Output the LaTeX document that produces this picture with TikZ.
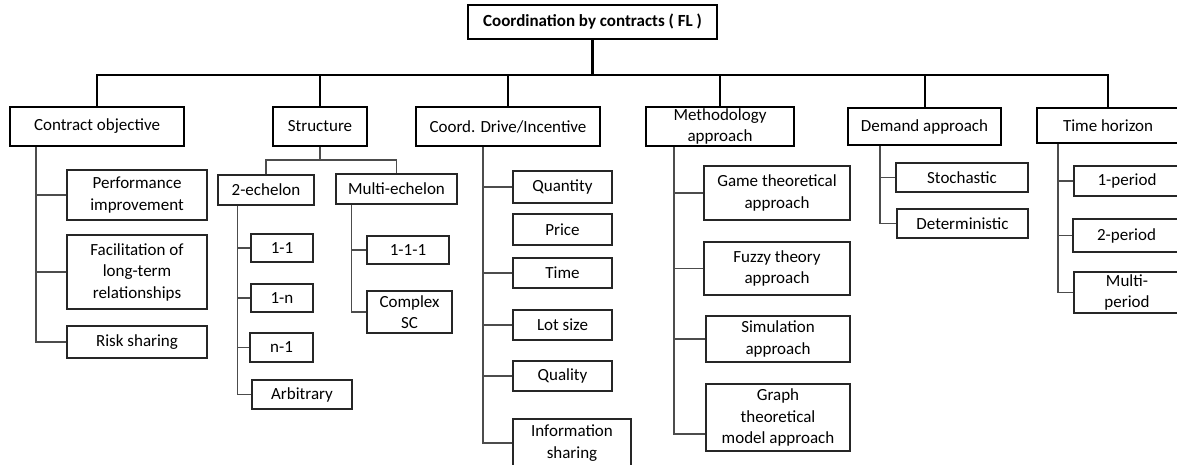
\documentclass[tikz,border=0pt]{standalone}
\usepackage{fontspec}
\setmainfont{Carlito}
\newcommand\dfont{\fontsize{17}{21.5}\selectfont}
\begin{document}
\begin{tikzpicture}[x=1pt,y=-1pt,
  sz/.style 2 args={minimum width=#1pt,minimum height=#2pt},
  l0/.style={draw, line width=2.2pt, inner sep=0pt, align=center, font=\dfont\bfseries},
  l1/.style={draw, line width=2pt, inner sep=0pt, align=center, font=\dfont},
  l2/.style={draw=black!85, line width=1.3pt, inner sep=0pt, align=center, font=\dfont},
  busline/.style={line width=2.6pt},
  dropline/.style={line width=2pt},
  br/.style={line width=1.6pt, draw=black!70}]
\useasboundingbox (0,0) rectangle (1177,465);
\clip (0,0) rectangle (1177,465);

% root and level 1
\node[l0, sz={249}{34}] (root) at (592.5,22) {Coordination by contracts ( FL )};
\node[l1, sz={174}{39}] (co) at (97,126.5) {Contract objective};
\node[l1, sz={94}{39}]  (st) at (320,126.5) {Structure};
\node[l1, sz={184}{39}] (cd) at (508,126.5) {Coord. Drive/Incentive};
\node[l1, sz={148}{39}] (me) at (720,126.5) {Methodology\\approach};
\node[l1, sz={153}{37}] (de) at (924.5,126.5) {Demand approach};
\node[l1, sz={142}{35}] (th) at (1108,125.5) {Time horizon};

\coordinate (bus) at (592.5,75);
\draw[busline] (co.north) |- (bus) -| (th.north);
\draw[busline] (root.south) -- (bus);
\foreach \n in {st,cd,me,de} \draw[dropline] (\n.north) -- (\n.north |- bus);

% contract objective
\node[l2, sz={140}{50}] (perf) at (137,195) {Performance\\improvement};
\node[l2, sz={140}{74}] (fac)  at (137,272) {Facilitation of\\long-term\\relationships};
\node[l2, sz={140}{32}] (risk) at (137,342) {Risk sharing};
\coordinate (cot) at ([xshift=27pt]co.south west);
\draw[br] (cot) |- (risk.west);
\foreach \n in {perf,fac} \draw[br] (\n.west) -- (\n.west -| cot);

% structure
\node[l2, sz={96}{30}]  (e2) at (266,190) {2-echelon};
\node[l2, sz={121}{30}] (em) at (396.5,189) {Multi-echelon};
\coordinate (sj) at (320,160);
\draw[br] (st.south) -- (sj);
\draw[br] (e2.north) |- (sj) -| (em.north);

\node[l2, sz={62}{28}]  (e11) at (282,248) {1-1};
\node[l2, sz={62}{28}]  (e1n) at (282,298) {1-n};
\node[l2, sz={63}{29}]  (en1) at (281.5,347.5) {n-1};
\node[l2, sz={100}{29}] (arb) at (302,394.5) {Arbitrary};
\coordinate (e2t) at ([xshift=20pt]e2.south west);
\draw[br] (e2t) |- (arb.west);
\foreach \n in {e11,e1n,en1} \draw[br] (\n.west) -- (\n.west -| e2t);

\node[l2, sz={82}{28}] (m111) at (408,250) {1-1-1};
\node[l2, sz={85}{42}] (csc)  at (409.5,312) {Complex\\SC};
\coordinate (emt) at ([xshift=16pt]em.south west);
\draw[br] (emt) |- (csc.west);
\draw[br] (m111.west) -- (m111.west -| emt);

% coord drive
\node[l2, sz={99}{32}]  (qty)   at (562.5,187) {Quantity};
\node[l2, sz={99}{31}]  (price) at (562.5,229.5) {Price};
\node[l2, sz={99}{30}]  (time)  at (562.5,273) {Time};
\node[l2, sz={99}{30}]  (lot)   at (562.5,325) {Lot size};
\node[l2, sz={99}{30}]  (qual)  at (562.5,376) {Quality};
\node[l2, sz={118}{48}] (info)  at (572,443) {Information\\sharing};
\coordinate (cdt) at ([xshift=68pt]cd.south west);
\draw[br] (cdt) |- (info.west);
\foreach \n in {qty,time,lot,qual} \draw[br] (\n.west) -- (\n.west -| cdt);

% methodology
\node[l2, sz={146}{54}] (game)  at (777,193) {Game theoretical\\approach};
\node[l2, sz={146}{53}] (fuzzy) at (777,268.5) {Fuzzy theory\\approach};
\node[l2, sz={144}{46}] (sim)   at (778,339) {Simulation\\approach};
\node[l2, sz={144}{67}] (graph) at (778,417.5) {Graph\\theoretical\\model approach};
\coordinate (met) at ([xshift=29pt]me.south west);
\draw[br] (met) |- ([yshift=-16.5pt]graph.west);
\foreach \n in {game,fuzzy,sim} \draw[br] (\n.west) -- (\n.west -| met);

% demand
\node[l2, sz={132}{29}] (sto) at (962,177.5) {Stochastic};
\node[l2, sz={131}{29}] (det) at (962.5,223.5) {Deterministic};
\coordinate (det0) at ([xshift=33pt]de.south west);
\draw[br] (det0) |- (det.west);
\draw[br] (sto.west) -- (sto.west -| det0);

% time horizon
\node[l2, sz={106}{30}] (p1) at (1127,181) {1-period};
\node[l2, sz={107}{33}] (p2) at (1126.5,235.5) {2-period};
\node[l2, sz={106}{41}] (pm) at (1127,292.5) {Multi-\\period};
\coordinate (tht) at ([xshift=22pt]th.south west);
\draw[br] (tht) |- (pm.west);
\foreach \n in {p1,p2} \draw[br] (\n.west) -- (\n.west -| tht);
\end{tikzpicture}
\end{document}
